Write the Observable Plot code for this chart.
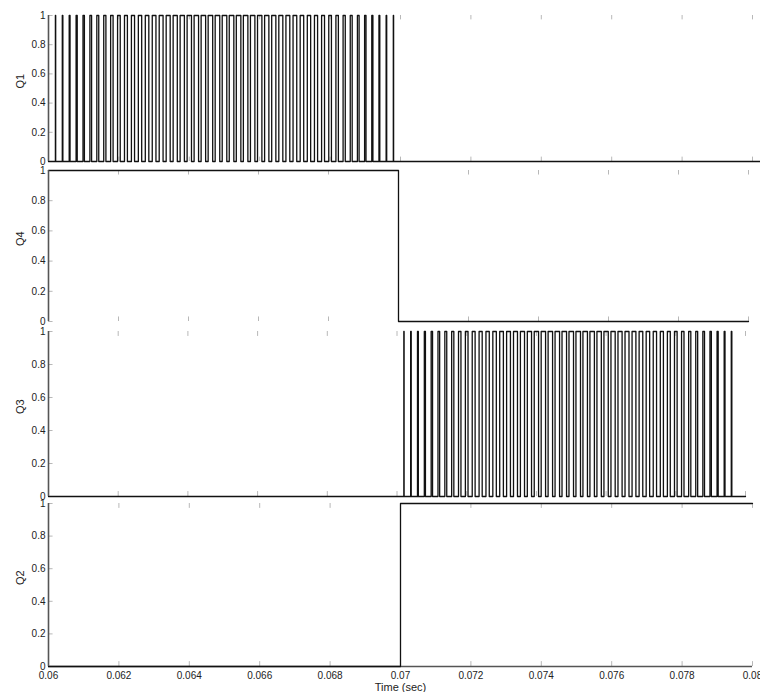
<!DOCTYPE html>
<html><head><meta charset="utf-8">
<script src="https://cdn.jsdelivr.net/npm/d3@7"></script>
<script src="https://cdn.jsdelivr.net/npm/@observablehq/plot@0.6"></script>
<style>
body{margin:0;background:#fff;}
#chart{position:relative;width:760px;height:692px;overflow:hidden;background:#fff;}
#chart svg{position:absolute;left:0;}
</style></head><body><div id="chart"></div>
<script>
// Axis ticks
const xTicks = [0.06,0.062,0.064,0.066,0.068,0.07,0.072,0.074,0.076,0.078,0.08];
const xTickLabels = ["0.06","0.062","0.064","0.066","0.068","0.07","0.072","0.074","0.076","0.078","0.08"];
const yTicks = [0,0.2,0.4,0.6,0.8,1];
const yTickLabels = ["0","0.2","0.4","0.6","0.8","1"];
const xTitle = "Time (sec)";

// Q1: PWM pulses (centre time in s, width in microseconds)
const q1Centers = [0.0602,0.0604,0.0606,0.0608,0.0610,0.0612,0.0614,0.0616,0.0618,0.0620,0.0622,0.0624,0.0626,0.0628,0.0630,0.0632,0.0634,0.0636,0.0638,0.0640,0.0642,0.0644,0.0646,0.0648,0.0650,0.0652,0.0654,0.0656,0.0658,0.0660,0.0662,0.0664,0.0666,0.0668,0.0670,0.0672,0.0674,0.0676,0.0678,0.0680,0.0682,0.0684,0.0686,0.0688,0.0690,0.0692,0.0694,0.0696,0.0698];
const q1Widths = [8,16,24,32,40,48,55,62,70,76,83,89,95,100,105,110,114,118,121,124,126,128,129,130,130,130,129,128,126,124,121,118,114,110,105,100,95,89,83,76,70,62,55,48,40,32,24,16,8];
const q1Span = [0.06, 0.08023];

// Q3: PWM pulses
const q3Centers = [0.0702,0.0704,0.0706,0.0708,0.0710,0.0712,0.0714,0.0716,0.0718,0.0720,0.0722,0.0724,0.0726,0.0728,0.0730,0.0732,0.0734,0.0736,0.0738,0.0740,0.0742,0.0744,0.0746,0.0748,0.0750,0.0752,0.0754,0.0756,0.0758,0.0760,0.0762,0.0764,0.0766,0.0768,0.0770,0.0772,0.0774,0.0776,0.0778,0.0780,0.0782,0.0784,0.0786,0.0788,0.0790,0.0792,0.0794,0.0796];
const q3Widths = [8,16,24,32,40,48,55,62,70,76,83,89,95,100,105,110,114,118,121,124,126,128,129,130,130,130,129,128,126,124,121,118,114,110,105,100,95,89,83,76,70,62,55,48,40,32,24,16];
const q3Span = [0.06, 0.08];

// Q4 and Q2: step signals
const q4Times = [0.06, 0.07, 0.07, 0.08];
const q4Levels = [1, 1, 0, 0];
const q2Times = [0.06, 0.07, 0.07, 0.08];
const q2Levels = [0, 0, 1, 1];

function pulseTrain(centers, widths, span) {
  const pts = [{t: span[0], v: 0}];
  centers.forEach((c, i) => {
    const h = widths[i] / 2e6;
    pts.push({t: c - h, v: 0}, {t: c - h, v: 1}, {t: c + h, v: 1}, {t: c + h, v: 0});
  });
  pts.push({t: span[1], v: 0});
  return pts;
}
function steps(times, levels) { return times.map((t, i) => ({t, v: levels[i]})); }

const FONT = "'Liberation Sans', Arial, Helvetica, sans-serif";
const chart = document.getElementById("chart");

function panel({label, data, top, height, mt, mb, mr, bottom}) {
  const marks = [
    Plot.ruleX(xTicks, {x: d => d, y1: 0, y2: 0.03, stroke: "#b8b8b8"}),
    Plot.ruleX(xTicks, {x: d => d, y1: 1, y2: 0.97, stroke: "#b8b8b8"}),
    Plot.ruleY(yTicks, {y: d => d, x1: 0.06, x2: 0.06013, stroke: "#b8b8b8"}),
  ];
  if (bottom) marks.push(Plot.ruleY([0], {x1: 0.06, x2: 0.08, stroke: "#555", strokeWidth: 1.5}));
  marks.push(
    Plot.line(data, {x: "t", y: "v", stroke: "#111", strokeWidth: 1.3, curve: "linear"}),
    Plot.ruleX([0.06], {y1: 0, y2: 1, stroke: "#555", strokeWidth: 1.6}),
    Plot.text(yTicks, {x: 0.06, y: d => d, text: (d, i) => yTickLabels[i], textAnchor: "end", dx: -3, fontSize: 10, fill: "#222"}),
    Plot.text([label], {frameAnchor: "left", text: d => d, dx: -28, rotate: -90, fontSize: 11, fill: "#222"})
  );
  if (bottom) {
    marks.push(
      Plot.text(xTicks, {x: d => d, y: 0, text: (d, i) => xTickLabels[i], dy: 9, lineAnchor: "middle", fontSize: 10, fill: "#222"}),
      Plot.text([xTitle], {frameAnchor: "bottom", text: d => d, dy: 21, lineAnchor: "middle", fontSize: 11, fill: "#222"})
    );
  }
  const svg = Plot.plot({
    width: 760, height,
    marginTop: mt, marginBottom: mb, marginLeft: 48, marginRight: mr,
    x: {domain: [0.06, 0.08], axis: null},
    y: {domain: [0, 1], axis: null},
    style: {background: "transparent", fontFamily: FONT, overflow: "visible"},
    marks
  });
  svg.style.top = top + "px";
  chart.appendChild(svg);
}

panel({label: "Q1", data: pulseTrain(q1Centers, q1Widths, q1Span), top: 0, height: 165, mt: 15, mb: 4, mr: 8});
panel({label: "Q4", data: steps(q4Times, q4Levels), top: 160, height: 165, mt: 10, mb: 4, mr: 12});
panel({label: "Q3", data: pulseTrain(q3Centers, q3Widths, q3Span), top: 320, height: 180, mt: 11, mb: 4, mr: 15});
panel({label: "Q2", data: steps(q2Times, q2Levels), top: 490, height: 202, mt: 13, mb: 26, mr: 8, bottom: true});
</script></body></html>
